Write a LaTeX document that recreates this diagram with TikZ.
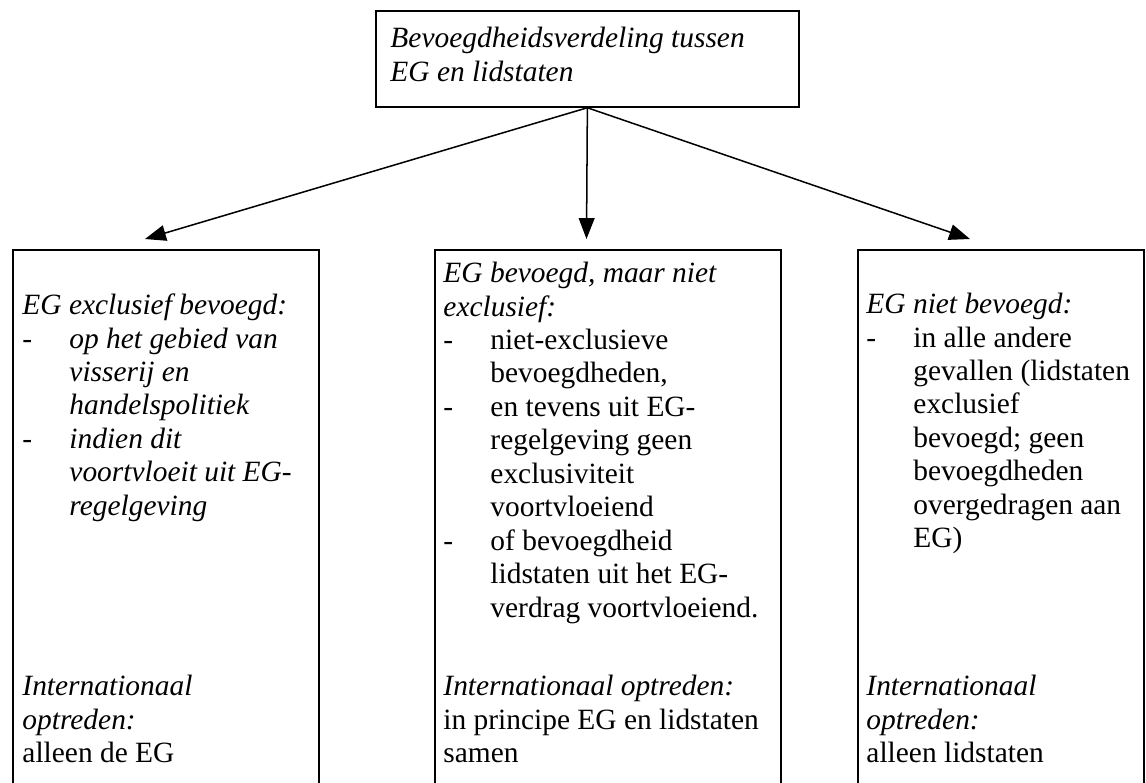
\documentclass[tikz,border=0pt]{standalone}
\usepackage{fontspec}
\setmainfont{Liberation Serif}
\usetikzlibrary{arrows.meta}
\newlength\px
\setlength\px{0.43pt}
\newcommand{\streep}{\makebox[47\px][l]{-}}
\newcommand{\inspring}{\hspace*{47\px}}

\begin{document}
\begin{tikzpicture}[x=0.43pt, y=-0.43pt, font=\fontsize{12.65}{14.4}\selectfont, >={Triangle[length=9pt, width=6.8pt]}]
	\tikzset{
		kader/.style={draw, line width=0.75pt, inner sep=0pt, anchor=north west},
		tekst/.style={align=left, inner sep=0pt, anchor=north west},
		cursief/.style={font=\fontsize{12.65}{14.4}\selectfont\itshape},
		pijl/.style={->, line width=0.65pt},
	}
	\useasboundingbox (0,0) rectangle (1146,782);
	\clip (0,0) rectangle (1146,782);
	\node[kader, minimum width=423*0.43pt, minimum height=96*0.43pt] (top) at (375,10) {};
	\node[tekst, cursief] (toptekst) at ([xshift=15*0.43pt, yshift=-13.6*0.43pt]top.north west) {\strut Bevoegdheidsverdeling tussen\\EG en lidstaten};
	\foreach \naam/\x/\b in {links/12/306, midden/434/346, rechts/857/286}{
		\node[kader, minimum width=\b*0.43pt, minimum height=560*0.43pt] (\naam) at (\x,249) {};
	}
	\foreach \naam/\dx in {links/133, midden/152.5, rechts/113}{
		\draw[pijl] (top.south) -- ([xshift=\dx*0.43pt, yshift=10*0.43pt]\naam.north west);
	}
	\node[tekst, cursief] (linkstekst) at ([xshift=10*0.43pt, yshift=-41.6*0.43pt]links.north west) {\strut EG exclusief bevoegd:\\
		\streep op het gebied van\\
		\inspring visserij en\\
		\inspring handelspolitiek\\
		\streep indien dit\\
		\inspring voortvloeit uit EG-\\
		\inspring regelgeving};
	\node[tekst] (middentekst) at ([xshift=9*0.43pt, yshift=-9.6*0.43pt]midden.north west) {\strut\textit{EG bevoegd, maar niet}\\
		\textit{exclusief:}\\
		\streep niet-exclusieve\\
		\inspring bevoegdheden,\\
		\streep en tevens uit EG-\\
		\inspring regelgeving geen\\
		\inspring exclusiviteit\\
		\inspring voortvloeiend\\
		\streep of bevoegdheid\\
		\inspring lidstaten uit het EG-\\
		\inspring verdrag voortvloeiend.};
	\node[tekst] (rechtstekst) at ([xshift=9*0.43pt, yshift=-40.6*0.43pt]rechts.north west) {\strut\textit{EG niet bevoegd:}\\
		\streep in alle andere\\
		\inspring gevallen (lidstaten\\
		\inspring exclusief\\
		\inspring bevoegd; geen\\
		\inspring bevoegdheden\\
		\inspring overgedragen aan\\
		\inspring EG)};
	\node[tekst] (linksonder) at ([xshift=10*0.43pt, yshift=-422.6*0.43pt]links.north west) {\strut\textit{Internationaal}\\\textit{optreden:}\\alleen de EG};
	\node[tekst] (middenonder) at ([xshift=9*0.43pt, yshift=-422.6*0.43pt]midden.north west) {\strut\textit{Internationaal optreden:}\\in principe EG en lidstaten\\samen};
	\node[tekst] (rechtsonder) at ([xshift=9*0.43pt, yshift=-422.6*0.43pt]rechts.north west) {\strut\textit{Internationaal}\\\textit{optreden:}\\alleen lidstaten};
\end{tikzpicture}
\end{document}
